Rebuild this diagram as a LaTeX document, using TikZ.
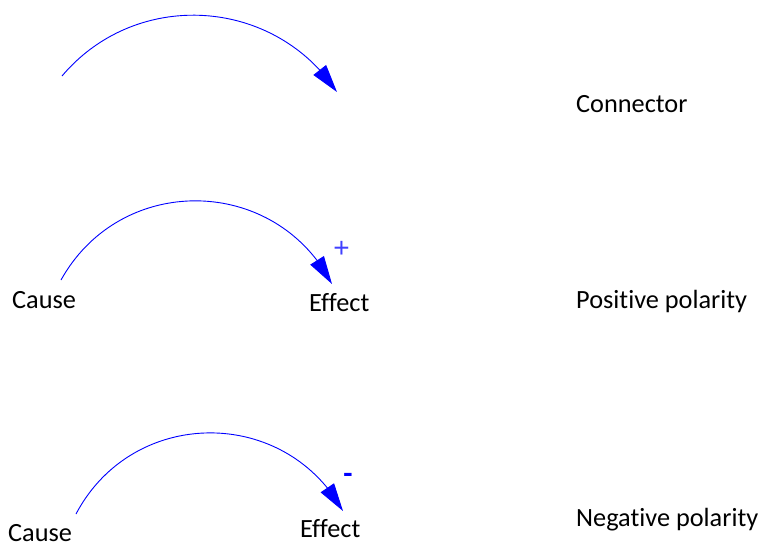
\documentclass[tikz,border=0pt]{standalone}
\usepackage{fontspec}
\setmainfont[Ligatures={NoCommon}]{Carlito}
\newfontfamily\plusfont{Liberation Sans}
\usetikzlibrary{arrows.meta,bending}
\begin{document}
\begin{tikzpicture}[x=1pt,y=1pt,
  lbl/.style={inner sep=0pt,anchor=base west,font=\fontsize{26.3}{30}\selectfont},
  link/.style={draw=blue,line width=0.9pt,-{Triangle[length=28pt,width=16pt]}},
  sign/.style={inner sep=0pt,text=blue}]
\useasboundingbox (0,0) rectangle (761,-542);
% row 1
\coordinate (s1) at (62,-76);
\coordinate (t1) at (337,-92);
\draw[link] (s1) to[out=49.8,in=123.6,looseness=1.063] (t1);
\node[lbl] (conn) at (576,-112.5) {Connector};
% row 2
\node[lbl] (cause2) at (12,-308) {Cause};
\node[lbl] (effect2) at (309,-311) {Effect};
\coordinate (s2) at (61,-280);
\coordinate (t2) at (332,-284);
\draw[link] (s2) to[out=60.9,in=117.4,looseness=1.158] (t2);
\node[sign,font=\plusfont\fontsize{28}{28}\selectfont,text=blue!75] (plus) at (341.5,-249) {+};
\node[lbl] (pos) at (576,-308) {Positive polarity};
% row 3
\node[lbl] (cause3) at (8,-541.5) {Cause};
\node[lbl] (effect3) at (300,-537.5) {Effect};
\coordinate (s3) at (76,-514);
\coordinate (t3) at (343,-511);
\draw[link] (s3) to[out=62.2,in=119.1,looseness=1.155] (t3);
\node[sign,font=\bfseries\fontsize{30}{30}\selectfont] (minus) at (348,-478) {-};
\node[lbl] (neg) at (576,-526.5) {Negative polarity};
\end{tikzpicture}
\end{document}
